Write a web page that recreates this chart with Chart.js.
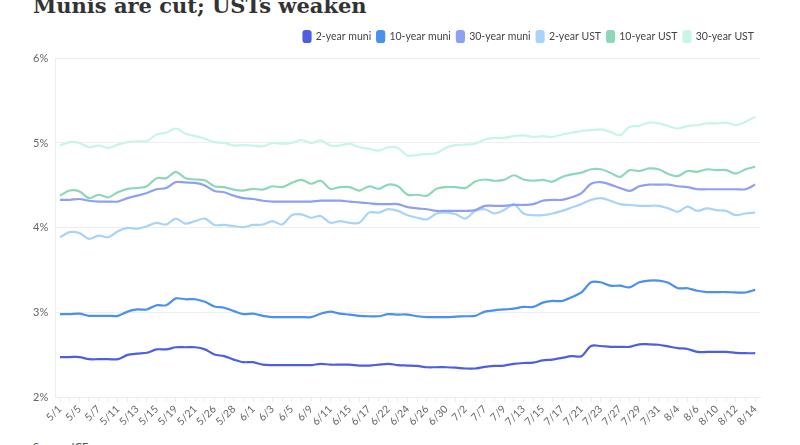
<!DOCTYPE html>
<html>
<head>
<meta charset="utf-8">
<script src="https://cdn.jsdelivr.net/npm/chart.js@4"></script>
<style>
  html, body { margin: 0; padding: 0; background: #fff; }
  body { width: 800px; height: 445px; position: relative; overflow: hidden; font-family: Lato, sans-serif; }
  #title { position: absolute; left: 33px; top: -7px; font: bold 21px "DejaVu Serif", serif; color: #333; white-space: nowrap; }
  #wrap { position: absolute; left: 0; top: 25px; width: 800px; height: 404px; }
  #source { position: absolute; left: 33px; top: 440px; font: 11px Lato, sans-serif; color: #555; }
</style>
</head>
<body>
<div id="title">Munis are cut; USTs weaken</div>
<div id="wrap"><canvas id="chart"></canvas></div>
<div id="source">Source: ICE</div>
<script>
const dates = [
  "5/1", "5/4", "5/5", "5/6", "5/7", "5/8", "5/11", "5/12", "5/13", "5/14", "5/15",
  "5/18", "5/19", "5/20", "5/21", "5/22", "5/26", "5/27", "5/28", "5/29",
  "6/1", "6/2", "6/3", "6/4", "6/5", "6/8", "6/9", "6/10", "6/11", "6/12",
  "6/15", "6/16", "6/17", "6/18", "6/22", "6/23", "6/24", "6/25", "6/26", "6/29", "6/30",
  "7/1", "7/2", "7/6", "7/7", "7/8", "7/9", "7/10", "7/13", "7/14", "7/15", "7/16", "7/17",
  "7/20", "7/21", "7/22", "7/23", "7/24", "7/27", "7/28", "7/29", "7/30", "7/31",
  "8/3", "8/4", "8/5", "8/6", "8/7", "8/10", "8/11", "8/12", "8/13", "8/14"
];

const muni2y = [
  2.48, 2.48, 2.48, 2.455, 2.455, 2.455, 2.455, 2.505, 2.52, 2.53, 2.57, 2.57, 2.595, 2.595, 2.595, 2.57, 2.51, 2.49, 2.45,
  2.42, 2.42, 2.39, 2.385, 2.385, 2.385, 2.385, 2.385, 2.40, 2.39, 2.39, 2.39, 2.38, 2.38, 2.39, 2.40, 2.385, 2.38, 2.375,
  2.36, 2.36, 2.36, 2.355, 2.345, 2.345, 2.365, 2.375, 2.38, 2.40, 2.41, 2.415, 2.44, 2.45, 2.47, 2.49, 2.49, 2.61, 2.61,
  2.60, 2.60, 2.60, 2.63, 2.63, 2.625, 2.605, 2.585, 2.575, 2.54, 2.54, 2.54, 2.54, 2.53, 2.525, 2.525
];

const muni10y = [
  2.985, 2.985, 2.99, 2.965, 2.965, 2.965, 2.965, 3.015, 3.04, 3.04, 3.09, 3.09, 3.17, 3.16, 3.16, 3.13, 3.075, 3.06, 3.02,
  2.985, 2.99, 2.965, 2.95, 2.95, 2.95, 2.95, 2.95, 2.99, 3.015, 2.99, 2.98, 2.965, 2.96, 2.96, 2.985, 2.98, 2.98, 2.96,
  2.95, 2.95, 2.95, 2.955, 2.96, 2.965, 3.015, 3.03, 3.04, 3.05, 3.07, 3.07, 3.12, 3.14, 3.14, 3.185, 3.24, 3.36, 3.36,
  3.32, 3.32, 3.30, 3.36, 3.38, 3.38, 3.355, 3.29, 3.29, 3.26, 3.245, 3.245, 3.245, 3.24, 3.24, 3.27
];

const muni30y = [
  4.33, 4.33, 4.34, 4.32, 4.31, 4.31, 4.31, 4.35, 4.38, 4.41, 4.455, 4.47, 4.54, 4.535, 4.53, 4.50, 4.435, 4.42, 4.38,
  4.35, 4.34, 4.32, 4.31, 4.31, 4.31, 4.31, 4.31, 4.32, 4.32, 4.32, 4.31, 4.30, 4.29, 4.28, 4.28, 4.28, 4.245, 4.23,
  4.22, 4.20, 4.20, 4.20, 4.20, 4.21, 4.26, 4.26, 4.26, 4.27, 4.27, 4.28, 4.32, 4.33, 4.33, 4.36, 4.41, 4.52, 4.54,
  4.51, 4.47, 4.435, 4.49, 4.51, 4.51, 4.51, 4.49, 4.48, 4.455, 4.455, 4.455, 4.455, 4.455, 4.455, 4.51
];

const ust2y = [
  3.89, 3.95, 3.94, 3.87, 3.91, 3.89, 3.96, 4.00, 3.99, 4.02, 4.06, 4.04, 4.11, 4.05, 4.08, 4.11, 4.035, 4.035, 4.02,
  4.01, 4.035, 4.04, 4.08, 4.04, 4.15, 4.16, 4.12, 4.14, 4.06, 4.08, 4.06, 4.06, 4.18, 4.18, 4.22, 4.20, 4.15, 4.12,
  4.10, 4.17, 4.18, 4.16, 4.11, 4.20, 4.22, 4.17, 4.21, 4.28, 4.17, 4.15, 4.15, 4.17, 4.20, 4.24, 4.28, 4.33, 4.35,
  4.32, 4.28, 4.27, 4.26, 4.26, 4.26, 4.23, 4.19, 4.25, 4.20, 4.23, 4.21, 4.20, 4.15, 4.17, 4.18
];

const ust10y = [
  4.38, 4.44, 4.43, 4.35, 4.39, 4.36, 4.42, 4.46, 4.47, 4.49, 4.585, 4.585, 4.66, 4.585, 4.57, 4.56, 4.49, 4.48, 4.45,
  4.44, 4.46, 4.45, 4.49, 4.48, 4.53, 4.565, 4.52, 4.555, 4.46, 4.48, 4.48, 4.44, 4.49, 4.46, 4.51, 4.49, 4.39, 4.39,
  4.38, 4.46, 4.48, 4.48, 4.47, 4.545, 4.57, 4.555, 4.565, 4.62, 4.57, 4.555, 4.565, 4.545, 4.60, 4.63, 4.65, 4.69, 4.69,
  4.65, 4.60, 4.68, 4.67, 4.70, 4.69, 4.635, 4.61, 4.67, 4.66, 4.69, 4.68, 4.68, 4.64, 4.69, 4.72
];

const ust30y = [
  4.97, 5.01, 5.00, 4.95, 4.97, 4.94, 4.98, 5.01, 5.02, 5.02, 5.10, 5.12, 5.17, 5.11, 5.08, 5.05, 5.01, 5.00, 4.97,
  4.975, 4.97, 4.96, 5.00, 4.99, 5.00, 5.035, 5.00, 5.03, 4.97, 4.97, 4.99, 4.95, 4.93, 4.91, 4.95, 4.94, 4.85, 4.86,
  4.87, 4.88, 4.945, 4.975, 4.98, 4.99, 5.04, 5.06, 5.06, 5.08, 5.09, 5.07, 5.08, 5.07, 5.10, 5.12, 5.14, 5.15, 5.16,
  5.13, 5.09, 5.19, 5.20, 5.24, 5.23, 5.20, 5.17, 5.20, 5.21, 5.23, 5.23, 5.24, 5.21, 5.25, 5.31
];

const seriesNames = ["2-year muni", "10-year muni", "30-year muni", "2-year UST", "10-year UST", "30-year UST"];
const seriesColors = ["#4c5fe0", "#4a90ee", "#8fa0f2", "#a9d4fa", "#8ed8b8", "#c8f5e4"];
const seriesData = [muni2y, muni10y, muni30y, ust2y, ust10y, ust30y];

const yTicks = [2, 3, 4, 5, 6];

const datasets = seriesData.map((data, i) => ({
  label: seriesNames[i],
  data,
  borderColor: seriesColors[i],
  backgroundColor: seriesColors[i],
  borderWidth: 2.2,
  pointRadius: 0,
  tension: 0.3,
  fill: false,
}));

// push the plot down a little below the legend
const legendGap = {
  id: "legendGap",
  beforeInit(chart) {
    const fit = chart.legend.fit;
    chart.legend.fit = function() {
      fit.bind(chart.legend)();
      this.height += 6;
    };
  },
};

new Chart(document.getElementById("chart").getContext("2d"), {
  type: "line",
  data: { labels: dates, datasets },
  plugins: [legendGap],
  options: {
    responsive: true,
    maintainAspectRatio: false,
    animation: false,
    layout: { padding: { left: 26, right: 40, top: 0, bottom: 0 } },
    plugins: {
      legend: {
        position: "top",
        align: "end",
        labels: {
          boxWidth: 7,
          boxHeight: 11,
          useBorderRadius: true,
          borderRadius: 2,
          padding: 6,
          color: "#444",
          font: { family: "Lato", size: 10.5 },
        },
      },
      tooltip: { enabled: false },
    },
    scales: {
      x: {
        offset: true,
        grid: { drawOnChartArea: false, color: "#ececec", tickLength: 4 },
        border: { color: "#ececec" },
        ticks: {
          autoSkip: false,
          maxRotation: 45,
          minRotation: 45,
          color: "#666",
          font: { family: "Lato", size: 10.5 },
          padding: 1,
          callback: function(value, index) {
            return index % 2 === 0 ? dates[index] : "";
          },
        },
      },
      y: {
        min: 2,
        max: 6,
        afterBuildTicks: function(axis) {
          axis.ticks = yTicks.map(v => ({ value: v }));
        },
        grid: { color: "#eeeeee", drawTicks: false },
        border: { display: true, color: "#eeeeee" },
        ticks: {
          color: "#666",
          padding: 7,
          font: { family: "Lato", size: 11 },
          callback: function(value) {
            return value + "%";
          },
        },
      },
    },
  },
});
</script>
</body>
</html>
